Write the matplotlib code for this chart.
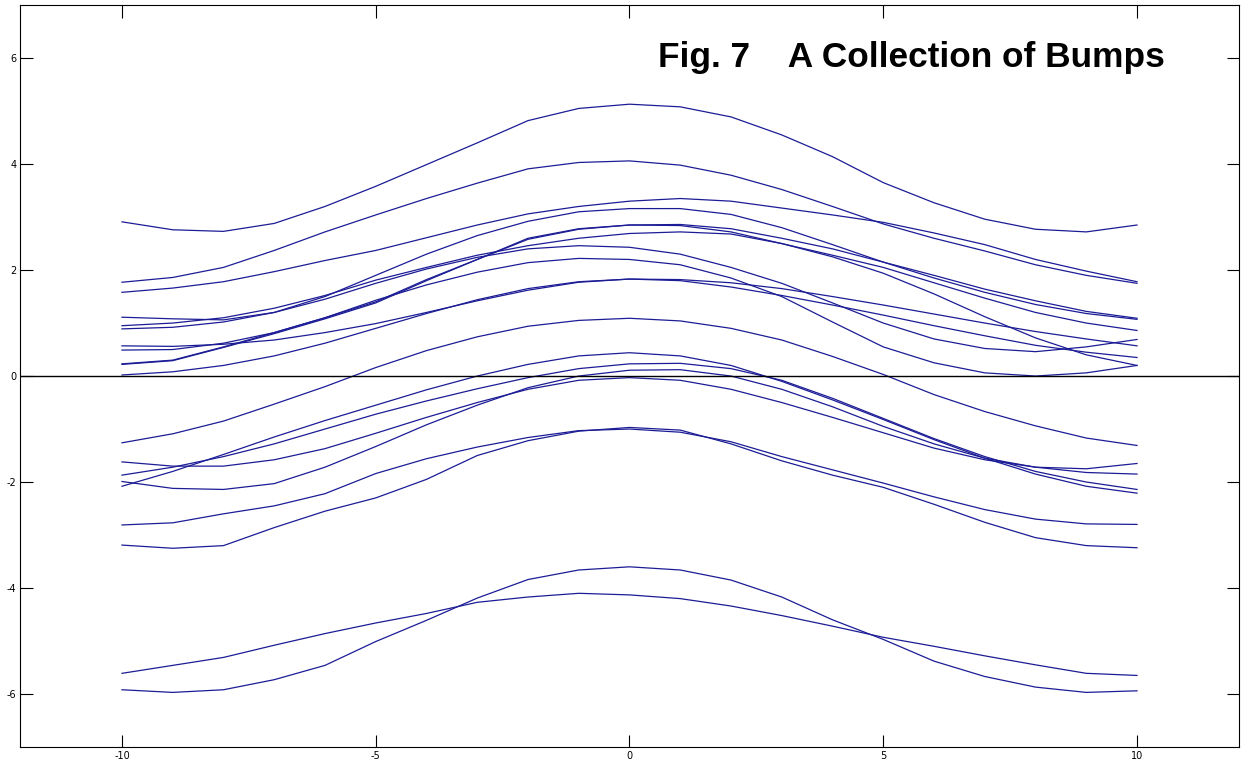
import numpy as np
import matplotlib.pyplot as plt

plt.rcParams["axes.unicode_minus"] = False

x = np.arange(-10, 11)

# one row per bump, values read at x = -10 .. 10
bumps = [
    [2.91, 2.76, 2.73, 2.88, 3.20, 3.58, 3.99, 4.40, 4.82, 5.05, 5.13, 5.08, 4.89, 4.55, 4.14, 3.65, 3.27, 2.96, 2.77, 2.72, 2.85],
    [1.77, 1.86, 2.05, 2.37, 2.72, 3.04, 3.35, 3.64, 3.91, 4.03, 4.06, 3.98, 3.79, 3.52, 3.20, 2.87, 2.60, 2.36, 2.10, 1.90, 1.75],
    [1.58, 1.66, 1.78, 1.97, 2.18, 2.37, 2.61, 2.85, 3.06, 3.20, 3.30, 3.35, 3.30, 3.17, 3.04, 2.90, 2.70, 2.48, 2.20, 1.98, 1.78],
    [1.11, 1.08, 1.06, 1.20, 1.50, 1.90, 2.30, 2.65, 2.92, 3.10, 3.16, 3.16, 3.05, 2.80, 2.48, 2.15, 1.85, 1.58, 1.35, 1.18, 1.07],
    [0.23, 0.30, 0.55, 0.82, 1.10, 1.40, 1.82, 2.20, 2.60, 2.78, 2.85, 2.86, 2.78, 2.60, 2.40, 2.15, 1.90, 1.64, 1.42, 1.22, 1.09],
    [0.22, 0.29, 0.54, 0.80, 1.08, 1.38, 1.80, 2.20, 2.58, 2.77, 2.85, 2.84, 2.72, 2.50, 2.28, 2.05, 1.76, 1.47, 1.20, 1.00, 0.86],
    [0.95, 1.00, 1.10, 1.28, 1.52, 1.81, 2.05, 2.28, 2.46, 2.60, 2.69, 2.72, 2.68, 2.50, 2.25, 1.94, 1.55, 1.12, 0.72, 0.40, 0.20],
    [0.89, 0.92, 1.02, 1.20, 1.45, 1.75, 2.02, 2.24, 2.40, 2.46, 2.43, 2.30, 2.05, 1.75, 1.38, 1.00, 0.70, 0.52, 0.46, 0.55, 0.69],
    [0.49, 0.50, 0.62, 0.82, 1.10, 1.43, 1.72, 1.96, 2.14, 2.22, 2.20, 2.10, 1.85, 1.50, 1.02, 0.55, 0.25, 0.06, 0.00, 0.06, 0.20],
    [0.57, 0.56, 0.60, 0.68, 0.82, 0.99, 1.20, 1.42, 1.62, 1.77, 1.83, 1.82, 1.76, 1.65, 1.50, 1.34, 1.17, 1.00, 0.84, 0.70, 0.57],
    [0.02, 0.08, 0.20, 0.38, 0.62, 0.90, 1.18, 1.44, 1.65, 1.78, 1.83, 1.80, 1.68, 1.52, 1.34, 1.15, 0.95, 0.76, 0.58, 0.45, 0.35],
    [-1.26, -1.09, -0.85, -0.53, -0.20, 0.16, 0.48, 0.74, 0.94, 1.05, 1.09, 1.04, 0.90, 0.68, 0.37, 0.03, -0.35, -0.67, -0.94, -1.17, -1.31],
    [-2.08, -1.80, -1.48, -1.15, -0.84, -0.55, -0.26, 0.00, 0.22, 0.38, 0.44, 0.38, 0.20, -0.10, -0.45, -0.82, -1.20, -1.55, -1.85, -2.08, -2.21],
    [-1.87, -1.72, -1.52, -1.28, -1.00, -0.72, -0.47, -0.24, -0.03, 0.14, 0.23, 0.24, 0.14, -0.08, -0.42, -0.80, -1.18, -1.52, -1.80, -2.00, -2.14],
    [-1.62, -1.70, -1.70, -1.58, -1.37, -1.08, -0.78, -0.50, -0.25, -0.08, -0.03, -0.08, -0.25, -0.50, -0.78, -1.07, -1.36, -1.58, -1.72, -1.75, -1.65],
    [-1.99, -2.12, -2.14, -2.03, -1.72, -1.33, -0.92, -0.55, -0.22, 0.00, 0.11, 0.12, 0.00, -0.25, -0.58, -0.95, -1.28, -1.55, -1.72, -1.82, -1.85],
    [-2.81, -2.77, -2.60, -2.45, -2.22, -1.84, -1.56, -1.34, -1.16, -1.03, -1.00, -1.06, -1.24, -1.52, -1.77, -2.02, -2.28, -2.52, -2.70, -2.79, -2.80],
    [-3.19, -3.25, -3.20, -2.86, -2.55, -2.30, -1.95, -1.50, -1.22, -1.04, -0.97, -1.02, -1.28, -1.60, -1.87, -2.10, -2.42, -2.76, -3.05, -3.20, -3.24],
    [-5.61, -5.46, -5.31, -5.08, -4.86, -4.66, -4.48, -4.27, -4.17, -4.10, -4.13, -4.20, -4.34, -4.52, -4.72, -4.93, -5.10, -5.28, -5.45, -5.61, -5.65],
    [-5.92, -5.97, -5.92, -5.73, -5.46, -5.01, -4.61, -4.19, -3.84, -3.66, -3.60, -3.66, -3.85, -4.17, -4.60, -4.97, -5.38, -5.67, -5.87, -5.97, -5.94],
]

xticks = [-10, -5, 0, 5, 10]
yticks = [-6, -4, -2, 0, 2, 4, 6]

fig = plt.figure(figsize=(12.41, 7.72), dpi=100)
ax = fig.add_axes([0.0165, 0.0324, 0.9815, 0.961])

for y in bumps:
    ax.plot(x, y, color="#1c1c96", lw=0.9)

ax.axhline(0, color="black", lw=1.0)

ax.set_xlim(-12, 12)
ax.set_ylim(-7, 7)
ax.set_xticks(xticks)
ax.set_yticks(yticks)
ax.tick_params(direction="in", top=True, right=True, length=9, width=0.8,
               labelsize=7, pad=3)
for s in ax.spines.values():
    s.set_linewidth(0.8)

ax.text(0.5234, 0.93, "Fig. 7    A Collection of Bumps", transform=ax.transAxes,
        fontsize=25.4, fontweight="bold", family="Liberation Sans",
        ha="left", va="center")

fig.savefig("out.png", dpi=100)
